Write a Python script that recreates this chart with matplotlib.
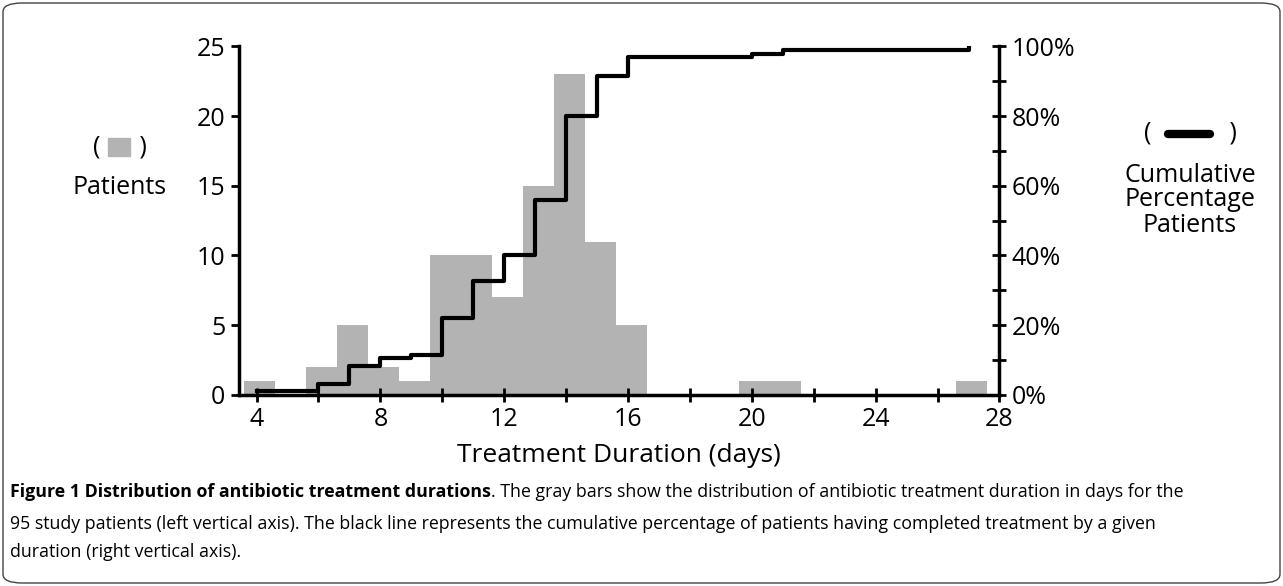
import matplotlib
matplotlib.use('Agg')
import matplotlib.pyplot as plt
import numpy as np
from matplotlib.patches import FancyBboxPatch, Rectangle
from matplotlib.lines import Line2D
from matplotlib.ticker import MultipleLocator, FuncFormatter

plt.rcParams['font.family'] = ['Open Sans', 'DejaVu Sans']

# days and patient counts
days = [4, 6, 7, 8, 9, 10, 11, 12, 13, 14, 15, 16, 20, 21, 27]
patients = [1, 2, 5, 2, 1, 10, 10, 7, 15, 23, 11, 5, 1, 1, 1]

total = sum(patients)
cum_pct = np.cumsum(patients) / total * 100

fig = plt.figure(figsize=(12.83, 5.86), dpi=100)
ax = fig.add_axes([0.186, 0.326, 0.593, 0.595])

ax.bar(np.array(days) + 0.1, patients, width=1.0, color='#b3b3b3', zorder=1)
ax.set_xlim(3.42, 28)
ax.set_ylim(0, 25)
ax.xaxis.set_major_locator(MultipleLocator(2))
ax.xaxis.set_major_formatter(FuncFormatter(lambda v, p: f'{int(v)}' if v % 4 == 0 else ''))
ax.yaxis.set_major_locator(MultipleLocator(5))
ax.spines['top'].set_visible(False)
ax.spines['right'].set_visible(False)
for s in ['left', 'bottom']:
    ax.spines[s].set_linewidth(2.5)
ax.tick_params(axis='both', labelsize=18, width=2, length=6)
ax.tick_params(axis='x', direction='inout', length=10)

ax2 = ax.twinx()
ax2.step(days, cum_pct, where='post', color='black', lw=3, zorder=3)
ax2.set_ylim(0, 100)
ax2.yaxis.set_major_locator(MultipleLocator(10))
ax2.yaxis.set_major_formatter(FuncFormatter(lambda v, p: f'{int(v)}%' if v % 20 == 0 else ''))
for s in ['top', 'left', 'bottom']:
    ax2.spines[s].set_visible(False)
ax2.spines['right'].set_linewidth(2.5)
ax2.tick_params(axis='y', labelsize=18, width=2, length=10, direction='inout')

ax.set_xlabel('Treatment Duration (days)', fontsize=19, labelpad=8)

# left legend
fig.text(120 / 1283, 1 - 147 / 586, '(      )', fontsize=18, ha='center', va='center')
fig.add_artist(Rectangle((108 / 1283, 1 - 156 / 586), 22 / 1283, 18 / 586,
                         transform=fig.transFigure, color='#b3b3b3'))
fig.text(120 / 1283, 1 - 188 / 586, 'Patients', fontsize=18, ha='center', va='center')

# right legend
fig.text(1190 / 1283, 1 - 133 / 586, '(            )', fontsize=18, ha='center', va='center')
fig.add_artist(Line2D([1168 / 1283, 1210 / 1283], [1 - 134 / 586] * 2,
                      transform=fig.transFigure, color='black', lw=6, solid_capstyle='round'))
fig.text(1190 / 1283, 1 - 200 / 586, 'Cumulative\nPercentage\nPatients', fontsize=18,
         ha='center', va='center', linespacing=1.0)

# border
fig.add_artist(FancyBboxPatch((3 / 1283, 3 / 586), 1277 / 1283, 580 / 586,
                              boxstyle='round,pad=0,rounding_size=0.015',
                              transform=fig.transFigure, fill=False, ec='#444444', lw=1))

# caption
fig.canvas.draw()
r = fig.canvas.get_renderer()
x0 = 10 / 1283
y1 = 1 - 492 / 586
fs = 12.8
t = fig.text(x0, y1, 'Figure 1 Distribution of antibiotic treatment durations',
             fontsize=fs, fontweight='bold', va='center')
bb = t.get_window_extent(r)
fig.text(bb.x1 / fig.bbox.width, y1,
         '. The gray bars show the distribution of antibiotic treatment duration in days for the',
         fontsize=fs, va='center')
fig.text(x0, 1 - 524 / 586,
         '95 study patients (left vertical axis). The black line represents the cumulative percentage of patients having completed treatment by a given',
         fontsize=fs, va='center')
fig.text(x0, 1 - 552 / 586, 'duration (right vertical axis).', fontsize=fs, va='center')

fig.savefig('out.png', dpi=100)
plt.close()
